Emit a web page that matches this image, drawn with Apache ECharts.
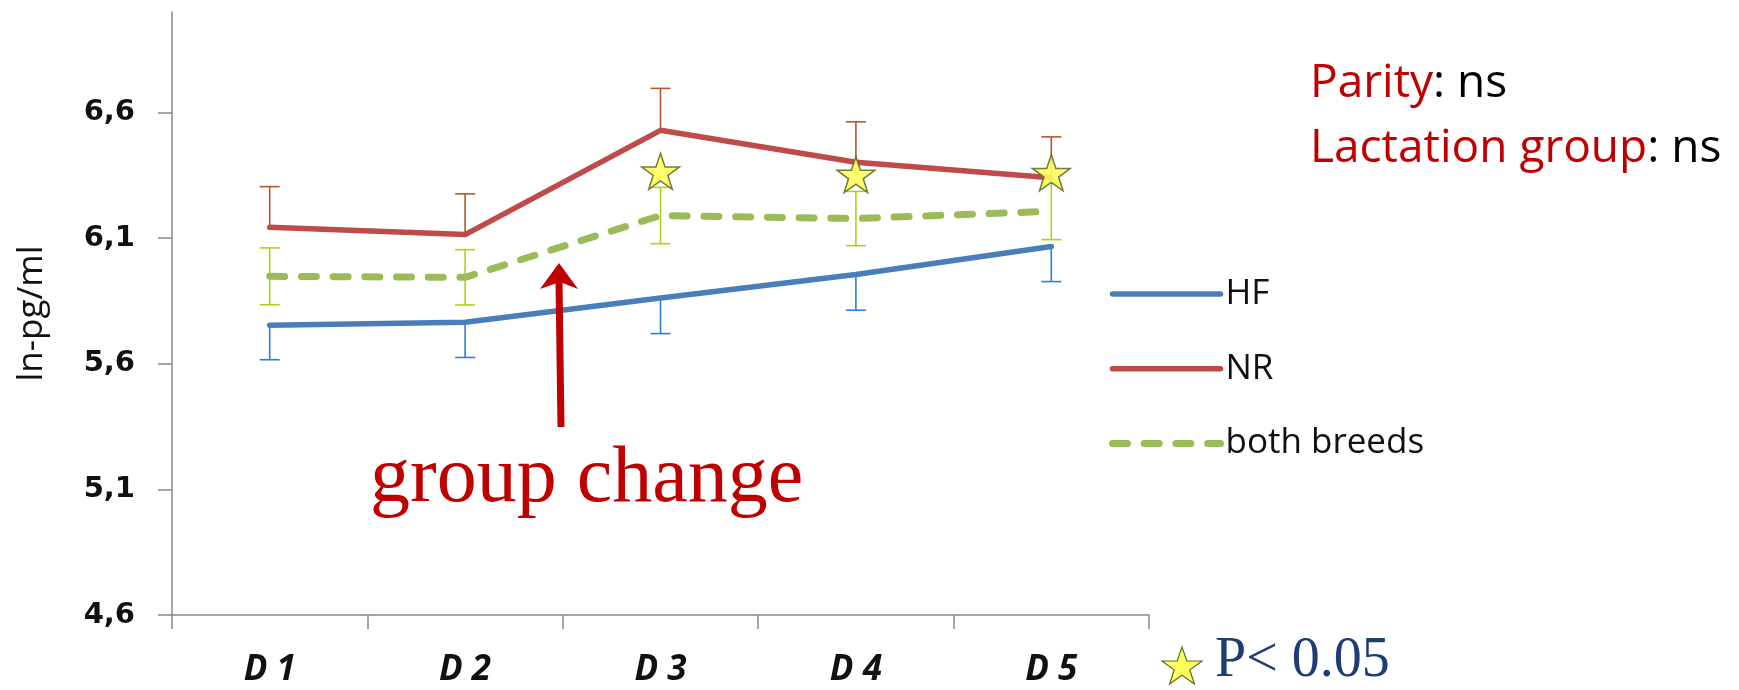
<!DOCTYPE html>
<html>
<head>
<meta charset="utf-8">
<script src="https://cdn.jsdelivr.net/npm/echarts@6/dist/echarts.min.js"></script>
<style>
html,body{margin:0;padding:0;background:#fff;}
#chart{width:1739px;height:690px;}
</style>
</head>
<body>
<div id="chart"></div>
<script>
// ---- data ----
const categories = ['D 1', 'D 2', 'D 3', 'D 4', 'D 5'];
const hfValues   = [5.753, 5.765, 5.862, 5.955, 6.067];
const hfErrors   = [0.137, 0.140, 0.142, 0.142, 0.140];
const nrValues   = [6.143, 6.114, 6.529, 6.402, 6.340];
const nrErrors   = [0.162, 0.162, 0.167, 0.161, 0.163];
const bothValues = [5.948, 5.944, 6.190, 6.178, 6.207];
const bothErrors = [0.113, 0.110, 0.112, 0.108, 0.113];
const starValues = ['-', '-', 6.366, 6.353, 6.360];
const yTickValues = [4.6, 5.1, 5.6, 6.1, 6.6];

const STAR = 'path://M50,0 L61.8,35.1 L98.9,35.1 L69,57.3 L80.3,92.7 L50,71 L19.7,92.7 L31,57.3 L1.1,35.1 L38.2,35.1 Z';

function starPoints(cx, cy, w, h) {
  const base = [[50,0],[61.8,35.1],[98.9,35.1],[69,57.3],[80.3,92.7],[50,71],[19.7,92.7],[31,57.3],[1.1,35.1],[38.2,35.1]];
  return base.map(p => [cx - w / 2 + p[0] / 100 * w, cy - h / 2 + p[1] / 92.7 * h]);
}

function errSeries(name, vals, errs, dir, color) {
  return {
    type: 'custom',
    name: name,
    silent: true,
    z: 1,
    encode: { x: 0, y: 1 },
    data: vals.map((v, i) => [i, v, errs[i]]),
    renderItem: function (params, api) {
      const i = api.value(0), v = api.value(1), e = api.value(2);
      const lo = dir <= 0 ? v - e : v;
      const hi = dir >= 0 ? v + e : v;
      const pLo = api.coord([i, lo]);
      const pHi = api.coord([i, hi]);
      const hw = 10;
      const st = { stroke: color, lineWidth: 1.6 };
      const children = [
        { type: 'line', shape: { x1: pLo[0], y1: pLo[1], x2: pHi[0], y2: pHi[1] }, style: st }
      ];
      if (dir >= 0) children.push({ type: 'line', shape: { x1: pHi[0] - hw, y1: pHi[1], x2: pHi[0] + hw, y2: pHi[1] }, style: st });
      if (dir <= 0) children.push({ type: 'line', shape: { x1: pLo[0] - hw, y1: pLo[1], x2: pLo[0] + hw, y2: pLo[1] }, style: st });
      return { type: 'group', children: children };
    }
  };
}

const chart = echarts.init(document.getElementById('chart'));
const option = {
  backgroundColor: '#ffffff',
  animation: false,
  grid: { left: 172, right: 590, top: 12, bottom: 75 },
  legend: {
    data: ['HF', 'NR', 'both breeds'],
    orient: 'vertical',
    left: 1104,
    top: 269,
    itemWidth: 108,
    itemHeight: 14,
    itemGap: 34.7,
    itemStyle: { opacity: 0 },
    lineStyle: { width: 'inherit', cap: 'round' },
    textStyle: { fontFamily: 'Open Sans', fontSize: 35, color: '#111', lineHeight: 40 },
    selectedMode: false
  },
  xAxis: {
    type: 'category',
    data: categories,
    boundaryGap: true,
    axisLine: { lineStyle: { color: '#888', width: 1.5 } },
    axisTick: { show: true, length: 14, lineStyle: { color: '#888', width: 1.5 } },
    axisLabel: { fontFamily: 'Open Sans', fontWeight: 'bold', fontStyle: 'italic', fontSize: 35, color: '#111', margin: 38 },
    splitLine: { show: false }
  },
  yAxis: {
    type: 'value',
    min: 4.6,
    max: 7.0,
    name: 'ln-pg/ml',
    nameLocation: 'middle',
    nameGap: 122,
    nameTextStyle: { fontFamily: 'Open Sans', fontSize: 35, color: '#111' },
    axisLine: { show: true, lineStyle: { color: '#888', width: 1.5 } },
    axisTick: { show: true, length: 14, customValues: yTickValues, lineStyle: { color: '#888', width: 1.5 } },
    axisLabel: {
      customValues: yTickValues,
      fontFamily: 'DejaVu Sans', fontWeight: 'bold', fontSize: 29, color: '#111', margin: 37,
      formatter: v => v.toFixed(1).replace('.', ',')
    },
    splitLine: { show: false }
  },
  series: [
    errSeries('HF_err', hfValues, hfErrors, -1, '#2A7FD8'),
    errSeries('NR_err', nrValues, nrErrors, 1, '#B4562C'),
    errSeries('both_err', bothValues, bothErrors, 0, '#A8D41A'),
    {
      name: 'HF', type: 'line', data: hfValues, symbol: 'none', z: 3,
      lineStyle: { color: '#4A7EBB', width: 5.5, cap: 'round', join: 'round' },
      itemStyle: { color: '#4A7EBB' }
    },
    {
      name: 'NR', type: 'line', data: nrValues, symbol: 'none', z: 3,
      lineStyle: { color: '#BE4B48', width: 5.5, cap: 'round', join: 'round' },
      itemStyle: { color: '#BE4B48' }
    },
    {
      name: 'both breeds', type: 'line', data: bothValues, symbol: 'none', z: 3,
      lineStyle: { color: '#9BBB59', width: 7, type: [15, 16.7], cap: 'round', join: 'round' },
      itemStyle: { color: '#9BBB59' }
    },
    {
      name: 'sig', type: 'scatter', data: starValues, symbol: STAR, symbolSize: [38, 36], z: 5,
      itemStyle: { color: '#FFFF5A', borderColor: '#5E6B2A', borderWidth: 1.5, opacity: 0.88 },
      silent: true
    }
  ],
  graphic: [
    {
      type: 'text', left: 1310, top: 61, z: 10,
      style: {
        text: '{r|Parity}{k|: ns}',
        font: '46px "Open Sans"',
        rich: {
          r: { fill: '#C00000', font: '46px "Open Sans"' },
          k: { fill: '#000000', font: '46px "Open Sans"' }
        }
      }
    },
    {
      type: 'text', left: 1310, top: 126, z: 10,
      style: {
        text: '{r|Lactation group}{k|: ns}',
        font: '46px "Open Sans"',
        rich: {
          r: { fill: '#C00000', font: '46px "Open Sans"' },
          k: { fill: '#000000', font: '46px "Open Sans"' }
        }
      }
    },
    {
      type: 'line', z: 10,
      shape: { x1: 561, y1: 427, x2: 559, y2: 282 },
      style: { stroke: '#C00000', lineWidth: 7 }
    },
    {
      type: 'polygon', z: 10,
      shape: { points: [[559, 263], [578, 289], [560, 282], [540, 289]] },
      style: { fill: '#C00000' }
    },
    {
      type: 'text', left: 370, top: 440, z: 10,
      style: { text: 'group change', font: '80px "Liberation Serif"', fill: '#C00000' }
    },
    {
      type: 'polygon', z: 10,
      shape: { points: starPoints(1182, 665.5, 41, 37) },
      style: { fill: '#FFFF5A', stroke: '#5E6B2A', lineWidth: 1.2 }
    },
    {
      type: 'text', left: 1215, top: 633, z: 10,
      style: { text: 'P< 0.05', font: '56px "Liberation Serif"', fill: '#1F3C74' }
    }
  ]
};
chart.setOption(option);
</script>
</body>
</html>
